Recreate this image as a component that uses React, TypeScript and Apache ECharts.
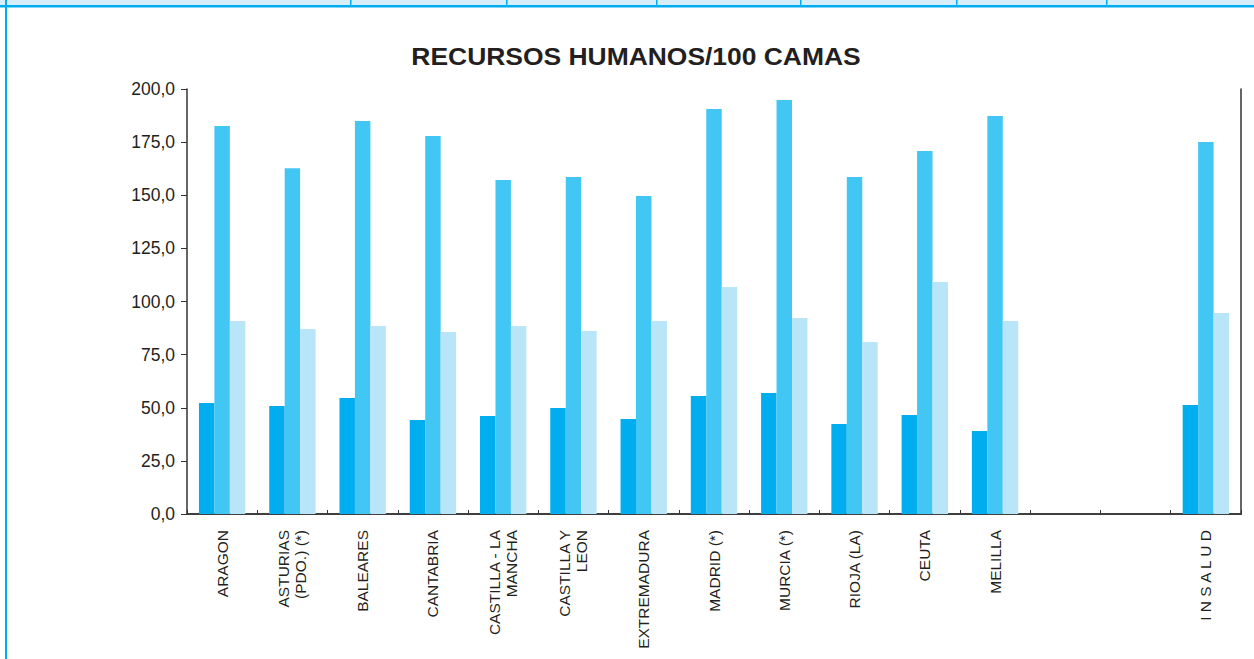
import React, { useEffect, useRef } from "react";
import * as echarts from "echarts";

const categories = [
  "ARAGON",
  "ASTURIAS\n(PDO.) (*)",
  "BALEARES",
  "CANTABRIA",
  "CASTILLA - LA\nMANCHA",
  "CASTILLA Y\nLEON",
  "EXTREMADURA",
  "MADRID (*)",
  "MURCIA (*)",
  "RIOJA (LA)",
  "CEUTA",
  "MELILLA",
  "",
  "",
  "I N S A L U D",
];
const serieA = [52.2, 50.8, 54.6, 44.2, 46.1, 49.9, 44.7, 55.5, 56.9, 42.4, 46.6, 39.1, null, null, 51.3];
const serieB = [182.6, 162.7, 184.9, 177.9, 157.2, 158.6, 149.6, 190.6, 194.8, 158.6, 170.8, 187.3, null, null, 175.1];
const serieC = [90.8, 87.1, 88.5, 85.6, 88.5, 86.1, 90.8, 106.8, 92.2, 80.9, 109.2, 90.8, null, null, 94.6];
const yTicks = [0, 25, 50, 75, 100, 125, 150, 175, 200];
const title = "RECURSOS HUMANOS/100 CAMAS";
const topDividers = [350, 506, 656, 800, 956, 1106];

const FONT = "'Liberation Sans', Arial, Helvetica, sans-serif";
const AXIS = "#333333";
const FRAME = "#00aeef";

export default function App() {
  const ref = useRef<HTMLDivElement>(null);
  useEffect(() => {
    if (!ref.current) return;
    const chart = echarts.init(ref.current, null, { renderer: "svg" });
    const bar = (data: (number | null)[], color: string) => ({
      type: "bar",
      data,
      itemStyle: { color },
      barGap: "0%",
      barCategoryGap: "34%",
    });
    chart.setOption({
      animation: false,
      backgroundColor: "#ffffff",
      textStyle: { fontFamily: FONT },
      grid: { left: 187, right: 13, top: 89, bottom: 145, show: false },
      xAxis: [
        {
          type: "category",
          data: categories,
          axisLine: { lineStyle: { color: AXIS, width: 1.5 } },
          axisTick: { show: true, inside: true, length: 4, lineStyle: { color: AXIS } },
          axisLabel: {
            rotate: 90,
            interval: 0,
            margin: 16,
            fontSize: 15.5,
            color: "#231f20",
            fontFamily: FONT,
            lineHeight: 17,
            align: "right",
          },
        },
        {
          type: "category",
          position: "top",
          data: categories,
          axisLine: { lineStyle: { color: AXIS, width: 1.5 } },
          axisTick: { show: false },
          axisLabel: { show: false },
        },
      ],
      yAxis: [
        {
          type: "value",
          min: 0,
          max: 200,
          interval: 25,
          axisLine: { show: true, lineStyle: { color: AXIS, width: 1.5 } },
          axisTick: { show: true, length: 6, lineStyle: { color: AXIS } },
          splitLine: { show: false },
          axisLabel: {
            margin: 12,
            fontSize: 17.5,
            color: "#231f20",
            fontFamily: FONT,
            formatter: (v: number) => (yTicks.includes(v) ? v.toFixed(1).replace(".", ",") : ""),
          },
        },
        {
          type: "value",
          position: "right",
          min: 0,
          max: 200,
          interval: 25,
          axisLine: { show: true, lineStyle: { color: AXIS, width: 1.5 } },
          axisTick: { show: false },
          axisLabel: { show: false },
          splitLine: { show: false },
        },
      ],
      series: [bar(serieA, "#00aeef"), bar(serieB, "#42c7f4"), bar(serieC, "#b9e5f8")],
      graphic: [
        { type: "rect", shape: { x: 0, y: 0, width: 1254, height: 5 }, style: { fill: "#d7eefa" }, silent: true },
        { type: "rect", shape: { x: 0, y: 5, width: 1254, height: 2.5 }, style: { fill: FRAME }, silent: true },
        { type: "rect", shape: { x: 5, y: 0, width: 2, height: 659 }, style: { fill: FRAME }, silent: true },
        ...topDividers.map((x) => ({
          type: "rect",
          shape: { x, y: 0, width: 1.5, height: 6 },
          style: { fill: FRAME },
          silent: true,
        })),
        {
          type: "text",
          x: 636,
          y: 57,
          scaleX: 1.15,
          style: {
            text: title,
            fontFamily: FONT,
            fontWeight: "bold",
            fontSize: 23,
            fill: "#231f20",
            align: "center",
            verticalAlign: "middle",
          },
        },
      ],
    });
    return () => chart.dispose();
  }, []);
  return (
    <div
      ref={ref}
      style={{ position: "fixed", left: 0, top: 0, width: 1254, height: 659, background: "#fff" }}
    />
  );
}
